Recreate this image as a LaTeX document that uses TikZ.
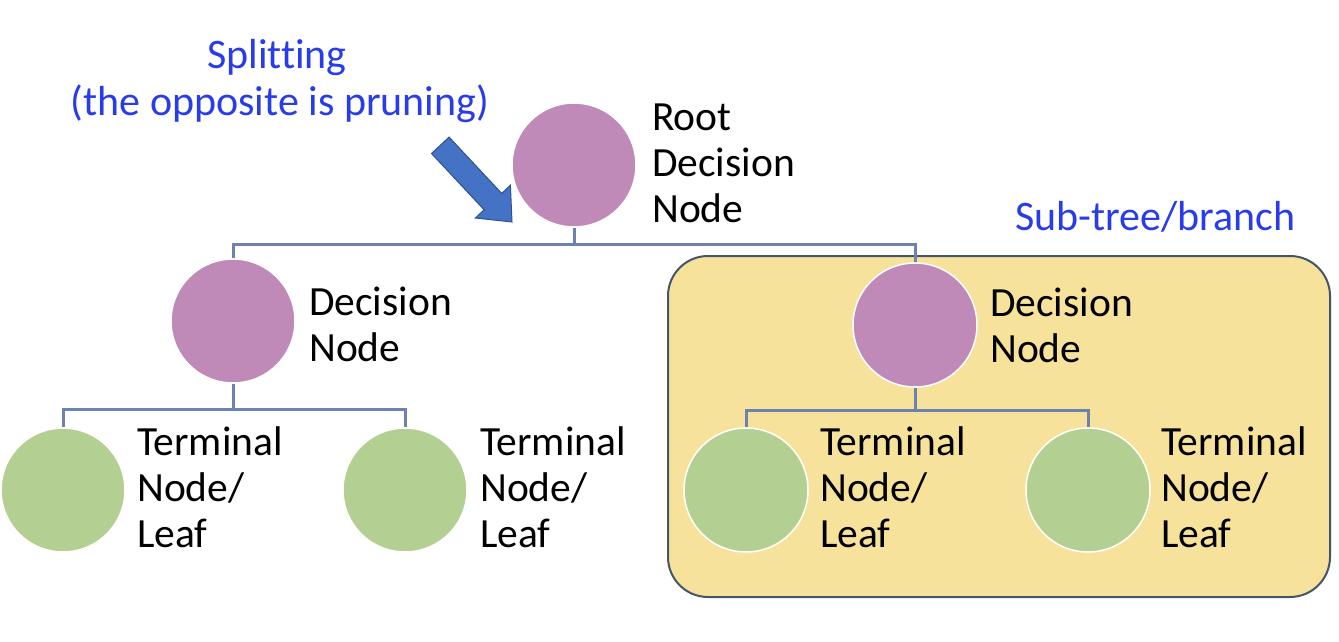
\documentclass[tikz,border=0pt]{standalone}
\usepackage{fontspec}
\setmainfont{Carlito}[Ligatures=NoCommon]
\begin{document}
\begin{tikzpicture}[x=1pt,y=-1pt,
  decide/.style={circle,minimum size=124pt,inner sep=0pt,fill=purpleC,draw=white,line width=1.5pt},
  leaf/.style={circle,minimum size=124pt,inner sep=0pt,fill=greenC,draw=white,line width=1.5pt},
  link/.style={draw=linkC,line width=3pt},
  lbl/.style={anchor=base west,align=left,inner sep=0pt,font=\fontsize{41.5}{46}\selectfont,text=black},
  blbl/.style={inner sep=0pt,font=\fontsize{42}{46}\selectfont,text=blueT},
]
\definecolor{purpleC}{RGB}{191,137,184}
\definecolor{greenC}{RGB}{179,208,146}
\definecolor{linkC}{RGB}{110,130,178}
\definecolor{boxC}{RGB}{246,226,155}
\definecolor{boxD}{RGB}{68,84,106}
\definecolor{blueT}{RGB}{40,60,235}
\definecolor{arrC}{RGB}{68,114,196}
\definecolor{arrD}{RGB}{47,82,143}
\useasboundingbox (0,0) rectangle (1339,642);
\fill[white] (0,0) rectangle (1339,642);

% sub-tree box
\draw[fill=boxC,draw=boxD,line width=2pt,rounded corners=40pt] (668,256) rectangle (1330,597);

% nodes
\node[decide] (root) at (574,165) {};
\node[decide] (dl) at (233,321) {};
\node[decide] (dr) at (915,325) {};
\node[leaf] (l1) at (63,490) {};
\node[leaf] (l2) at (405,490) {};
\node[leaf] (l3) at (746,490) {};
\node[leaf] (l4) at (1088,490) {};

% bus coordinates
\coordinate (b0) at (574,244);
\coordinate (b1) at (233,409);
\coordinate (b2) at (915,410);

% connectors
\draw[link] (root.south) -- (b0);
\draw[link] (dl.north) |- (b0) -| (dr.north);
\draw[link] (dl.south) -- (b1);
\draw[link] (l1.north) |- (b1) -| (l2.north);
\draw[link] (dr.south) -- (b2);
\draw[link] (l3.north) |- (b2) -| (l4.north);

% labels (anchored at the baseline of the last line)
\node[lbl] (troot) at (652,222) {Root\\Decision\\Node};
\node[lbl] (tdl) at (309,361) {Decision\\Node};
\node[lbl] (tdr) at (990,362) {Decision\\Node};
\node[lbl] (tl1) at (137,547) {Terminal\\Node/\\Leaf};
\node[lbl] (tl2) at (480,547) {Terminal\\Node/\\Leaf};
\node[lbl] (tl3) at (820,547) {Terminal\\Node/\\Leaf};
\node[lbl] (tl4) at (1161,547) {Terminal\\Node/\\Leaf};

\node[blbl,anchor=base] (split) at (277,69) {Splitting};
\node[blbl,anchor=base] (prune) at (280,115) {(the opposite is pruning)};
\node[blbl,anchor=base west] (sub) at (1015,230) {Sub-tree/branch};

% block arrow
\draw[fill=arrC,draw=arrD,line width=1pt,line join=miter]
  (449.1,137.1) -- (501.7,193.4) -- (510.4,185.2) -- (512,222)
  -- (475.4,218.0) -- (484.1,209.8) -- (431.5,153.5) -- cycle;
\end{tikzpicture}
\end{document}
